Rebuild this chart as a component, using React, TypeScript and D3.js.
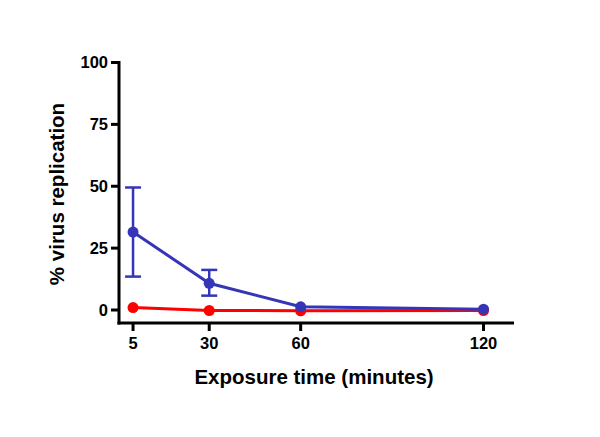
import React from "react";
import * as d3 from "d3";

const times = [5, 30, 60, 120];
const blueMean = [31.5, 10.8, 1.3, 0.3];
const blueLow = [13.5, 5.8, 1.3, 0.3];
const blueHigh = [49.5, 16.2, 1.3, 0.3];
const redMean = [1.0, -0.2, -0.3, -0.2];
const yTicks = [0, 25, 50, 75, 100];
const xTicks = [5, 30, 60, 120];

export default function App() {
  const W = 600, H = 437;
  const x = d3.scaleLinear().domain([0, 130]).range([117.8, 514]);
  const y = d3.scaleLinear().domain([0, 100]).range([310, 62.5]);
  const axisY = 323;
  const axisX = 119;
  const line = d3.line<[number, number]>().x(d => x(d[0])).y(d => y(d[1]));
  const blueC = "#3535b8";
  const redC = "#ff0000";
  const font = "Arial, 'Liberation Sans', sans-serif";
  return (
    <svg width={W} height={H} style={{ position: "absolute", left: 0, top: 0 }}>
      <rect width={W} height={H} fill="#fff" />
      {/* axes */}
      <line x1={axisX} x2={axisX} y1={y(100) - 1.5} y2={axisY + 1.5} stroke="#000" strokeWidth={3} />
      <line x1={axisX - 1.5} x2={514} y1={axisY} y2={axisY} stroke="#000" strokeWidth={3} />
      {yTicks.map(t => (
        <g key={t}>
          <line x1={axisX - 8} x2={axisX} y1={y(t)} y2={y(t)} stroke="#000" strokeWidth={3} />
          <text x={axisX - 11} y={y(t)} dy="0.36em" textAnchor="end" fontFamily={font} fontWeight="bold" fontSize={16.5} fill="#000">{t}</text>
        </g>
      ))}
      {xTicks.map(t => (
        <g key={t}>
          <line x1={x(t)} x2={x(t)} y1={axisY} y2={axisY + 8} stroke="#000" strokeWidth={3} />
          <text x={x(t)} y={348.5} textAnchor="middle" fontFamily={font} fontWeight="bold" fontSize={16.5} fill="#000">{t}</text>
        </g>
      ))}
      <text x={314} y={384} textAnchor="middle" fontFamily={font} fontWeight="bold" fontSize={20.5} fill="#000">Exposure time (minutes)</text>
      <text transform={`translate(64,194) rotate(-90)`} textAnchor="middle" fontFamily={font} fontWeight="bold" fontSize={20.5} fill="#000">% virus replication</text>
      {/* red series */}
      <path d={line(times.map((t, i) => [t, redMean[i]]) as any) || ""} fill="none" stroke={redC} strokeWidth={3} />
      {times.map((t, i) => (
        <circle key={"r" + i} cx={x(t)} cy={y(redMean[i])} r={5.5} fill={redC} />
      ))}
      {/* blue series */}
      {times.map((t, i) => (
        blueHigh[i] - blueLow[i] > 1 ? (
          <g key={"e" + i} stroke={blueC} strokeWidth={2.5}>
            <line x1={x(t)} x2={x(t)} y1={y(blueLow[i])} y2={y(blueHigh[i])} />
            <line x1={x(t) - 8} x2={x(t) + 8} y1={y(blueLow[i])} y2={y(blueLow[i])} />
            <line x1={x(t) - 8} x2={x(t) + 8} y1={y(blueHigh[i])} y2={y(blueHigh[i])} />
          </g>
        ) : null
      ))}
      <path d={line(times.map((t, i) => [t, blueMean[i]]) as any) || ""} fill="none" stroke={blueC} strokeWidth={3} />
      {times.map((t, i) => (
        <circle key={"b" + i} cx={x(t)} cy={y(blueMean[i])} r={5.5} fill={blueC} />
      ))}
    </svg>
  );
}
